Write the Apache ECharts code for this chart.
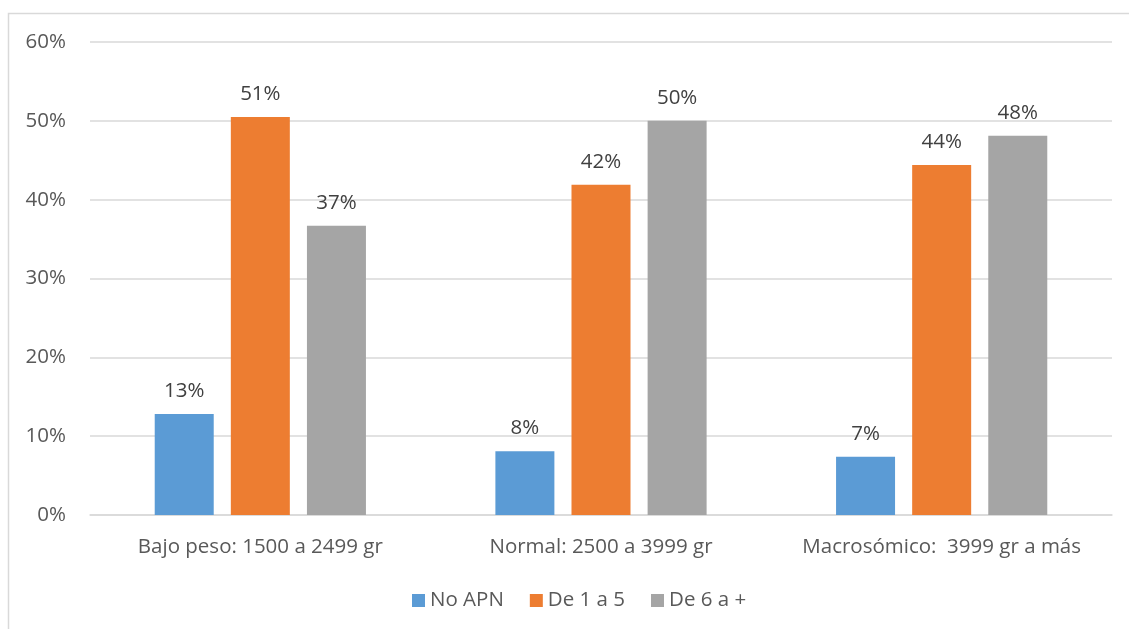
<!DOCTYPE html>
<html>
<head>
<meta charset="utf-8">
<script src="https://cdn.jsdelivr.net/npm/echarts@6/dist/echarts.min.js"></script>
<style>
  html, body { margin: 0; padding: 0; background: #ffffff; }
  #chart { width: 1129px; height: 629px; }
</style>
</head>
<body>
<div id="chart"></div>
<script>
// Birth-weight groups and share of each prenatal-visit bracket
const categories = ['Bajo peso: 1500 a 2499 gr', 'Normal: 2500 a 3999 gr', 'Macrosómico:  3999 gr a más'];
const seriesNames = ['No APN', 'De 1 a 5', 'De 6 a +'];
const noApn = [12.8, 8.1, 7.4];
const de1a5 = [50.5, 41.9, 44.4];
const de6aMas = [36.7, 50.0, 48.1];
const yTicks = [0, 10, 20, 30, 40, 50, 60];

const colors = ['#5b9bd5', '#ed7d31', '#a5a5a5'];
const textColor = '#595959';
const fontFamily = '"Open Sans", sans-serif';
const fontSize = 20.5;

const chart = echarts.init(document.getElementById('chart'), null, { renderer: 'canvas' });

const labelOpt = {
  show: true,
  position: 'top',
  distance: 12,
  color: '#404040',
  fontFamily: fontFamily,
  fontSize: fontSize,
  formatter: p => Math.round(p.value) + '%'
};

function bar(name, data, color) {
  return {
    name: name,
    type: 'bar',
    data: data,
    barWidth: 59,
    barGap: '29%',
    itemStyle: { color: color },
    label: labelOpt
  };
}

chart.setOption({
  animation: false,
  graphic: [{
    type: 'rect',
    shape: { x: 8.5, y: 13.5, width: 1200, height: 700 },
    style: { fill: 'none', stroke: '#d9d9d9', lineWidth: 1.5 },
    silent: true,
    z: -1
  }],
  grid: { left: 90, right: 17, top: 42, bottom: 114, containLabel: false },
  legend: {
    data: seriesNames,
    bottom: 13,
    left: 407,
    itemWidth: 13,
    itemHeight: 13,
    itemGap: 26,
    icon: 'rect',
    textStyle: { color: textColor, fontFamily: fontFamily, fontSize: fontSize }
  },
  xAxis: {
    type: 'category',
    data: categories,
    axisLine: { show: true, lineStyle: { color: '#d9d9d9', width: 1.5 } },
    axisTick: { show: false },
    axisLabel: {
      color: textColor, fontFamily: fontFamily, fontSize: fontSize, margin: 22,
      interval: 0, hideOverlap: false
    }
  },
  yAxis: {
    type: 'value',
    min: yTicks[0],
    max: yTicks[yTicks.length - 1],
    interval: 10,
    axisLine: { show: false },
    axisTick: { show: false },
    splitLine: { lineStyle: { color: '#d9d9d9', width: 1.5 } },
    axisLabel: { color: textColor, fontFamily: fontFamily, fontSize: fontSize, margin: 24, formatter: v => v + '%' }
  },
  series: [
    bar(seriesNames[0], noApn, colors[0]),
    bar(seriesNames[1], de1a5, colors[1]),
    bar(seriesNames[2], de6aMas, colors[2])
  ]
});
</script>
</body>
</html>
